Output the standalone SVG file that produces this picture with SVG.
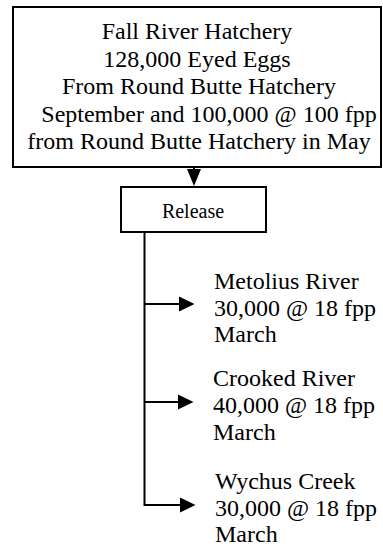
<svg xmlns="http://www.w3.org/2000/svg" width="383" height="549" viewBox="0 0 383 549">
<style>
.box{fill:#fff;stroke:#000;stroke-width:2}
.ln{stroke:#000;stroke-width:2;fill:none}
.hd{fill:#000}
text{font-family:"Liberation Serif","Times New Roman",serif;fill:#000}
.t24{font-size:24px}
.t20{font-size:20px}
</style>
<g id="hatchery">
<rect class="box" x="13" y="7" width="368" height="160"/>
<text class="t24" x="197" y="39" text-anchor="middle">Fall River Hatchery</text>
<text class="t24" x="197" y="67" text-anchor="middle">128,000 Eyed Eggs</text>
<text class="t24" x="199" y="94" text-anchor="middle">From Round Butte Hatchery</text>
<text class="t24" x="209" y="122" text-anchor="middle">September and 100,000 @ 100 fpp</text>
<text class="t24" x="199" y="149" text-anchor="middle">from Round Butte Hatchery in May</text>
</g>
<g id="release">
<rect class="box" x="121" y="187" width="145" height="45"/>
<text class="t20" x="193" y="218" text-anchor="middle">Release</text>
</g>
<g id="metolius">
<text class="t24" x="214" y="289">Metolius River</text>
<text class="t24" x="214" y="316">30,000 @ 18 fpp</text>
<text class="t24" x="214" y="342">March</text>
</g>
<g id="crooked">
<text class="t24" x="213" y="386">Crooked River</text>
<text class="t24" x="213" y="413">40,000 @ 18 fpp</text>
<text class="t24" x="213" y="440">March</text>
</g>
<g id="wychus">
<text class="t24" x="215" y="489">Wychus Creek</text>
<text class="t24" x="215" y="516">30,000 @ 18 fpp</text>
<text class="t24" x="215" y="542">March</text>
</g>
<g id="connectors">
<line class="ln" x1="194" y1="167" x2="194" y2="176"/>
<polygon class="hd" points="187,169 201,169 194,186"/>
<line class="ln" x1="144.5" y1="232" x2="144.5" y2="506"/>
<line class="ln" x1="144.5" y1="304" x2="182" y2="304"/>
<polygon class="hd" points="179,296.5 194.5,304 179,311.5"/>
<line class="ln" x1="144.5" y1="402" x2="181" y2="402"/>
<polygon class="hd" points="178,394.5 193.5,402 178,409.5"/>
<line class="ln" x1="144.5" y1="505" x2="183" y2="505"/>
<polygon class="hd" points="180,497.5 195.5,505 180,512.5"/>
</g>
</svg>
